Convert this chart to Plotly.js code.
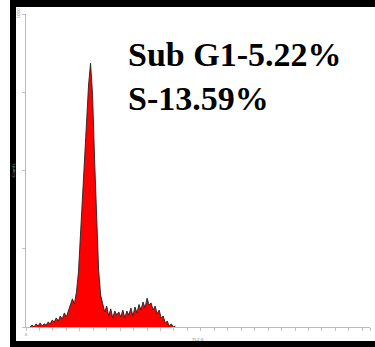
<!DOCTYPE html>
<html>
<head>
<meta charset="utf-8">
<script src="https://cdn.plot.ly/plotly-3.0.1.min.js"></script>
<style>
  html, body { margin: 0; padding: 0; background: #fff; }
  #chart { width: 375px; height: 347px; }
</style>
</head>
<body>
<div id="chart"></div>
<script>
// DNA content histogram (FL2-A channel), bins of 6 channels starting at channel 12
const binStart = 12;
const binWidth = 6;
const counts = [
  0, 6, 0, 10, 3, 13, 3, 10, 6, 16,
  10, 22, 16, 29, 19, 35, 26, 45, 32, 54,
  70, 90, 74, 112, 176, 294, 438, 566, 687, 773,
  843, 741, 534, 326, 182, 102, 74, 48, 67, 35,
  58, 29, 51, 38, 48, 32, 54, 29, 51, 38,
  61, 35, 64, 45, 72, 54, 80, 61, 92, 70,
  77, 54, 67, 42, 54, 29, 35, 13, 19, 3,
  10, 0, 3
];

// Axis ticks
const xTickVals = [0, 40, 80, 120, 160, 200, 240, 280, 320, 360, 400, 440, 480, 520,
                   560, 600, 640, 680, 720, 760, 800, 840, 880, 920, 960, 1000, 1023];
const xTickText = ['0', '', '', '', '', '', '', '', '', '', '', '', '', '',
                   '', '', '', '', '', '', '', '', '', '', '', '', '1023'];
const yTickVals = [0, 250, 500, 750, 1000];
const yTickText = ['', '', '', '', '1000'];

// Population percentages shown on the plot
const labels = ['Sub G1-5.22%', 'S-13.59%'];

const channels = counts.map((_, i) => binStart + i * binWidth);

const trace = {
  x: channels,
  y: counts,
  type: 'scatter',
  mode: 'lines',
  fill: 'tozeroy',
  fillcolor: '#ff0000',
  line: { color: '#222222', width: 0.9, shape: 'linear' },
  hoverinfo: 'skip'
};

// Plot area in pixels: x 26..370, y 14..327
const L = 26, R = 370, T = 14, B = 327;
const px = v => (v - L) / (R - L);
const py = v => (B - v) / (B - T);

const frame = { type: 'rect', xref: 'paper', yref: 'paper', fillcolor: '#000', line: { width: 0 }, layer: 'above' };

const layout = {
  width: 375,
  height: 347,
  margin: { l: L, r: 375 - R, t: T, b: 347 - B, pad: 0 },
  paper_bgcolor: '#ffffff',
  plot_bgcolor: '#ffffff',
  showlegend: false,
  xaxis: {
    range: [0, 1023],
    tickvals: xTickVals,
    ticktext: xTickText,
    ticks: 'outside',
    ticklen: 3,
    tickwidth: 0.6,
    tickcolor: '#999',
    showline: true,
    linecolor: '#bbb',
    linewidth: 1,
    showgrid: false,
    zeroline: false,
    tickfont: { family: 'DejaVu Sans', size: 4, color: '#888' },
    title: { text: 'FL2-A', font: { family: 'DejaVu Sans', size: 4, color: '#888' }, standoff: 2 }
  },
  yaxis: {
    range: [0, 1000],
    tickvals: yTickVals,
    ticktext: yTickText,
    tickangle: -90,
    ticks: 'outside',
    ticklen: 3,
    tickwidth: 0.6,
    tickcolor: '#999',
    showline: true,
    linecolor: '#bbb',
    linewidth: 1,
    showgrid: false,
    zeroline: false,
    tickfont: { family: 'DejaVu Sans', size: 4, color: '#888' },
    title: { text: 'Counts', font: { family: 'DejaVu Sans', size: 4, color: '#888' }, standoff: 1 }
  },
  annotations: labels.map((t, i) => ({
    text: '<b>' + t + '</b>',
    xref: 'paper', yref: 'paper',
    x: px(126), y: py(i === 0 ? 54 : 98),
    xanchor: 'left', yanchor: 'middle',
    showarrow: false,
    font: { family: 'Liberation Serif', size: 34, color: '#000' }
  })),
  shapes: [
    Object.assign({}, frame, { x0: px(10), x1: px(16), y0: py(0), y1: py(347) }),
    Object.assign({}, frame, { x0: px(10), x1: px(375), y0: py(0), y1: py(7) }),
    Object.assign({}, frame, { x0: px(10), x1: px(375), y0: py(341), y1: py(347) })
  ]
};

Plotly.newPlot('chart', [trace], layout, { displayModeBar: false, staticPlot: true });
</script>
</body>
</html>
